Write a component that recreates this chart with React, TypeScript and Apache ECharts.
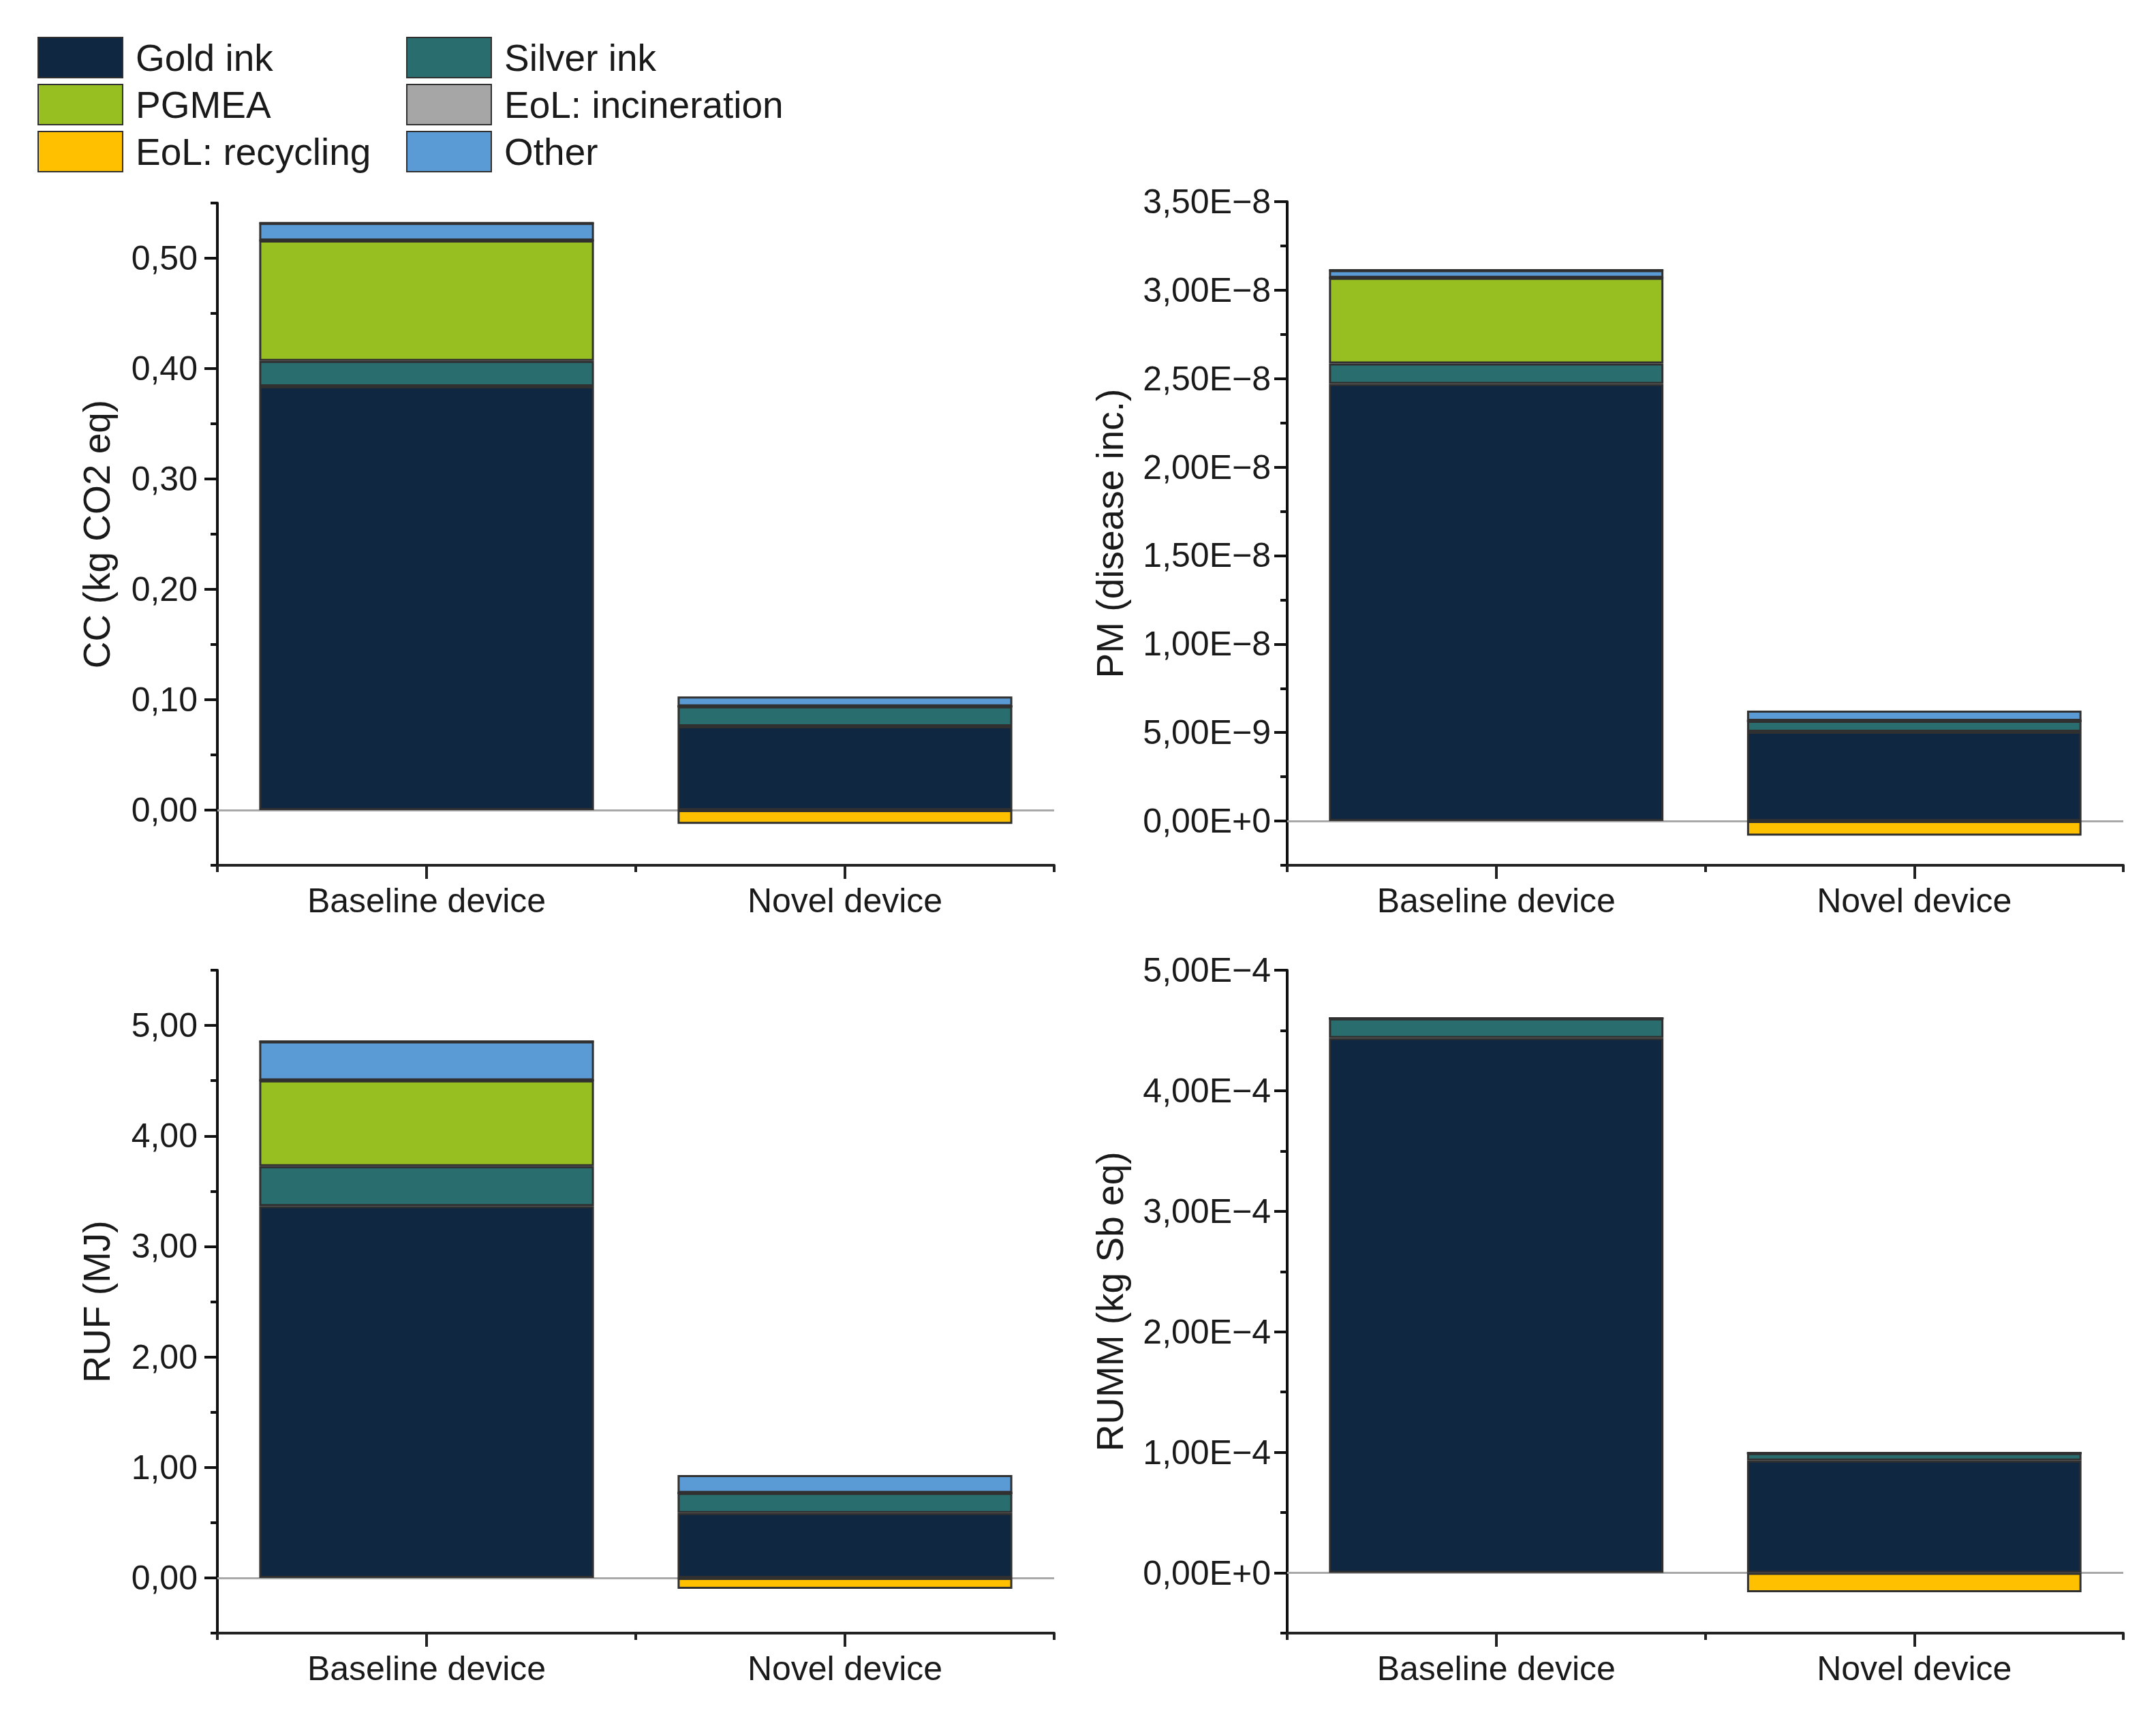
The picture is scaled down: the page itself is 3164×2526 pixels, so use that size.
import React, { useEffect, useRef } from 'react';
import * as echarts from 'echarts';

const categories = ['Baseline device', 'Novel device'];
const seriesNames = ['Gold ink', 'Silver ink', 'PGMEA', 'EoL: incineration', 'Other', 'EoL: recycling'];
const seriesColors = ['#0f2740', '#2a6d6e', '#98bf22', '#a6a6a6', '#5b9bd5', '#ffc000'];

// CC (kg CO2 eq)
const ccGold = [0.384, 0.076];
const ccSilver = [0.023, 0.018];
const ccPgmea = [0.109, 0];
const ccIncineration = [0, 0];
const ccOther = [0.016, 0.009];
const ccRecycling = [0, -0.0125];
const ccTicks = [0, 0.1, 0.2, 0.3, 0.4, 0.5];
const ccTickLabels = ['0,00', '0,10', '0,20', '0,30', '0,40', '0,50'];
const ccMinorTicks = [-0.05, 0.05, 0.15, 0.25, 0.35, 0.45, 0.55];

// PM (disease inc.)
const pmGold = [2.47e-8, 0.505e-8];
const pmSilver = [0.116e-8, 0.061e-8];
const pmPgmea = [0.484e-8, 0];
const pmIncineration = [0, 0];
const pmOther = [0.043e-8, 0.058e-8];
const pmRecycling = [0, -0.083e-8];
const pmTicks = [0, 5e-9, 1e-8, 1.5e-8, 2e-8, 2.5e-8, 3e-8, 3.5e-8];
const pmTickLabels = ['0,00E+0', '5,00E\u22129', '1,00E\u22128', '1,50E\u22128', '2,00E\u22128', '2,50E\u22128', '3,00E\u22128', '3,50E\u22128'];
const pmMinorTicks = [-2.5e-9, 2.5e-9, 7.5e-9, 1.25e-8, 1.75e-8, 2.25e-8, 2.75e-8, 3.25e-8];

// RUF (MJ)
const rufGold = [3.365, 0.587];
const rufSilver = [0.361, 0.181];
const rufPgmea = [0.777, 0];
const rufIncineration = [0, 0];
const rufOther = [0.352, 0.162];
const rufRecycling = [0, -0.099];
const rufTicks = [0, 1, 2, 3, 4, 5];
const rufTickLabels = ['0,00', '1,00', '2,00', '3,00', '4,00', '5,00'];
const rufMinorTicks = [-0.5, 0.5, 1.5, 2.5, 3.5, 4.5, 5.5];

// RUMM (kg Sb eq)
const rummGold = [4.437e-4, 0.931e-4];
const rummSilver = [0.163e-4, 0.062e-4];
const rummPgmea = [0, 0];
const rummIncineration = [0, 0];
const rummOther = [0, 0];
const rummRecycling = [0, -0.161e-4];
const rummTicks = [0, 1e-4, 2e-4, 3e-4, 4e-4, 5e-4];
const rummTickLabels = ['0,00E+0', '1,00E\u22124', '2,00E\u22124', '3,00E\u22124', '4,00E\u22124', '5,00E\u22124'];
const rummMinorTicks = [-0.5e-4, 0.5e-4, 1.5e-4, 2.5e-4, 3.5e-4, 4.5e-4];

const FONT = 'Liberation Sans, Arial, sans-serif';
const TEXT = '#1a1a1a';

export default function App() {
  const ref = useRef<HTMLDivElement>(null);
  useEffect(() => {
    if (!ref.current) return;
    const chart = echarts.init(ref.current, undefined, { renderer: 'svg' });

    const panels = [
      { title: 'CC (kg CO2 eq)', min: -0.05, max: 0.55, ticks: ccTicks, labels: ccTickLabels, minor: ccMinorTicks,
        data: [ccGold, ccSilver, ccPgmea, ccIncineration, ccOther, ccRecycling],
        grid: { left: 319, top: 298, width: 1228, height: 972 }, nameGap: 150, labelMargin: 29 },
      { title: 'PM (disease inc.)', min: -2.5e-9, max: 3.5e-8, ticks: pmTicks, labels: pmTickLabels, minor: pmMinorTicks,
        data: [pmGold, pmSilver, pmPgmea, pmIncineration, pmOther, pmRecycling],
        grid: { left: 1889, top: 296, width: 1227, height: 974 }, nameGap: 233, labelMargin: 24 },
      { title: 'RUF (MJ)', min: -0.5, max: 5.5, ticks: rufTicks, labels: rufTickLabels, minor: rufMinorTicks,
        data: [rufGold, rufSilver, rufPgmea, rufIncineration, rufOther, rufRecycling],
        grid: { left: 319, top: 1424, width: 1228, height: 973 }, nameGap: 150, labelMargin: 29 },
      { title: 'RUMM (kg Sb eq)', min: -0.5e-4, max: 5e-4, ticks: rummTicks, labels: rummTickLabels, minor: rummMinorTicks,
        data: [rummGold, rummSilver, rummPgmea, rummIncineration, rummOther, rummRecycling],
        grid: { left: 1889, top: 1424, width: 1227, height: 973 }, nameGap: 233, labelMargin: 24 },
    ];

    const grids: any[] = [];
    const xAxes: any[] = [];
    const yAxes: any[] = [];
    const series: any[] = [];

    panels.forEach((p, g) => {
      grids.push({ ...p.grid, containLabel: false });
      xAxes.push({
        type: 'category', gridIndex: g, data: categories, position: 'bottom',
        axisLine: { show: true, onZero: false, lineStyle: { color: '#222', width: 4 } },
        axisTick: { show: true, alignWithLabel: true, length: 20, lineStyle: { color: '#222', width: 4 } },
        axisLabel: { fontSize: 50, fontFamily: FONT, color: TEXT, margin: 27 },
        splitLine: { show: false },
      });
      xAxes.push({
        type: 'category', gridIndex: g, data: categories, position: 'bottom',
        axisLine: { show: false, onZero: false },
        axisTick: { show: true, alignWithLabel: false, length: 10, lineStyle: { color: '#222', width: 4 } },
        axisLabel: { show: false },
        splitLine: { show: false },
      });
      const span = p.max - p.min;
      yAxes.push({
        type: 'value', gridIndex: g, min: p.min, max: p.max, position: 'left',
        name: p.title, nameLocation: 'middle', nameGap: p.nameGap, nameRotate: 90,
        nameTextStyle: { fontSize: 55, fontFamily: FONT, color: TEXT },
        axisLine: { show: true, onZero: false, lineStyle: { color: '#111', width: 4 } },
        axisTick: { show: true, customValues: p.ticks, length: 19, lineStyle: { color: '#111', width: 4 } },
        axisLabel: {
          customValues: p.ticks, fontSize: 50, fontFamily: FONT, color: TEXT, margin: p.labelMargin,
          formatter: (v: number) => {
            const i = p.ticks.findIndex((t) => Math.abs(t - v) <= span * 1e-6);
            return i >= 0 ? p.labels[i] : '';
          },
        },
        splitLine: { show: false },
      });
      yAxes.push({
        type: 'value', gridIndex: g, min: p.min, max: p.max, position: 'left',
        axisLine: { show: false, onZero: false },
        axisTick: { show: true, customValues: p.minor, length: 10, lineStyle: { color: '#111', width: 4 } },
        axisLabel: { show: false },
        splitLine: { show: false },
      });
      seriesNames.forEach((name, s) => {
        const item: any = {
          type: 'bar', name, xAxisIndex: g * 2, yAxisIndex: g * 2, stack: 'panel' + g,
          data: p.data[s], barWidth: '80%',
          itemStyle: { color: seriesColors[s], borderColor: '#303030', borderWidth: 3 },
          emphasis: { disabled: true },
        };
        if (s === 0) {
          item.markLine = {
            silent: true, symbol: ['none', 'none'], label: { show: false },
            lineStyle: { color: '#a8a8a8', width: 3, type: 'solid' },
            data: [{ yAxis: 0 }],
            z: 1,
          };
        }
        series.push(item);
      });
    });

    const legendCommon = {
      orient: 'vertical', top: 54, itemWidth: 124, itemHeight: 59, itemGap: 8, padding: 0,
      icon: 'rect', selectedMode: false,
      textStyle: { fontSize: 55, fontFamily: FONT, color: TEXT, padding: [0, 0, 0, 14] },
    };

    chart.setOption({
      animation: false,
      backgroundColor: '#ffffff',
      legend: [
        { ...legendCommon, left: 55, data: ['Gold ink', 'PGMEA', 'EoL: recycling'] },
        { ...legendCommon, left: 596, data: ['Silver ink', 'EoL: incineration', 'Other'] },
      ],
      grid: grids,
      xAxis: xAxes,
      yAxis: yAxes,
      series,
    });
    return () => chart.dispose();
  }, []);
  return <div ref={ref} style={{ position: 'fixed', left: 0, top: 0, width: 3164, height: 2526, background: '#fff' }} />;
}
